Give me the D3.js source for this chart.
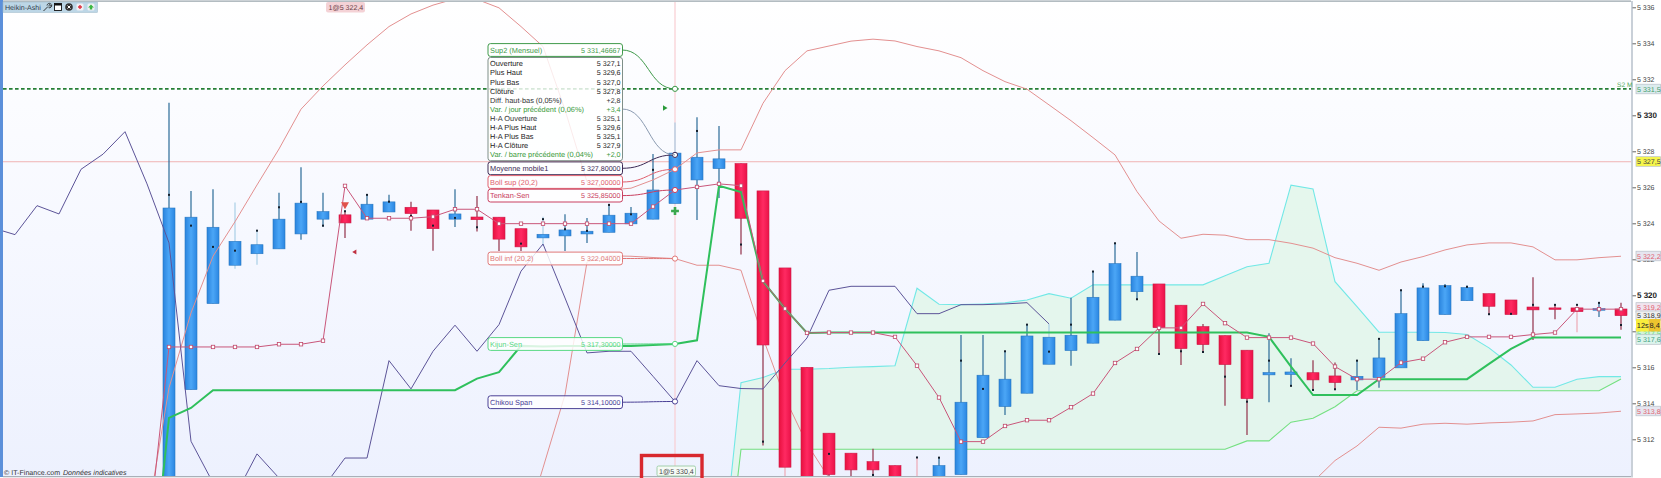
<!DOCTYPE html>
<html>
<head>
<meta charset="utf-8">
<title>Heikin-Ashi</title>
<script src="https://cdn.jsdelivr.net/npm/d3@7"></script>
<style>
html,body{margin:0;padding:0;background:#fff;overflow:hidden;}
text{font-family:"Liberation Sans",Arial,sans-serif;text-rendering:geometricPrecision;}
</style>
</head>
<body>
<div id="plot"></div>
<script>
//Set Height and Width Vars;
const w=1661;
const h=478;
const plotLeft=3;
const plotRight=1631;
const plotTop=2;
const plotBottom=476;

//Heikin-Ashi candles, first one is bar 0;
const opens=[5309.7,5314.76,5319.54,5321.67,5322.31,5322.58,5323.41,5324.23,5324.47,5324.23,5324.63,5324.89,5324.74,5324.23,5324.35,5324.34,5323.70,5323.19,5323.30,5323.41,5323.50,5323.97,5324.23,5325.1,5326.41,5327.04,5327.32,5325.80,5321.52,5316.00,5312.34,5311.23,5310.76,5310.54,5309.0,5309.47,5310.04,5312.09,5313.82,5314.56,5316.17,5316.93,5317.34,5318.62,5320.20,5320.63,5319.45,5318.26,5317.76,5316.95,5315.58,5315.60,5315.70,5315.52,5315.30,5315.43,5315.97,5317.48,5318.93,5319.70,5320.09,5319.74,5319.35,5319.30,5319.30,5319.17,5319.24];
const closes=[5324.85,5324.34,5323.78,5323.00,5322.81,5324.23,5325.12,5324.65,5324.02,5325.06,5325.19,5324.54,5323.70,5324.52,5324.20,5323.12,5322.69,5323.39,5323.63,5323.56,5324.45,5324.56,5325.85,5327.9,5327.67,5327.58,5324.28,5317.24,5310.45,5309.7,5310.04,5310.30,5310.30,5309.47,5308.5,5310.54,5314.06,5315.56,5315.34,5317.74,5317.67,5317.78,5319.89,5321.76,5321.06,5318.20,5317.04,5317.26,5316.15,5314.26,5315.71,5315.74,5315.30,5315.15,5315.50,5316.52,5318.98,5320.41,5320.54,5320.43,5319.39,5318.93,5319.19,5319.24,5319.09,5319.26,5318.87];
const highs=[5330.70,5325.80,5325.89,5325.15,5323.58,5325.70,5327.12,5325.70,5324.70,5325.58,5325.58,5325.20,5324.74,5325.89,5325.52,5324.34,5323.70,5324.37,5324.50,5324.30,5325.08,5324.9,5327.85,5329.6,5329.89,5329.41,5327.32,5325.80,5321.52,5316.00,5312.34,5311.23,5311.47,5310.54,5310.99,5310.98,5317.80,5317.80,5316.89,5318.37,5318.41,5319.87,5321.32,5322.89,5322.41,5320.63,5319.45,5318.41,5317.76,5316.95,5317.89,5316.50,5316.39,5316.26,5316.37,5317.58,5320.28,5320.67,5320.63,5320.55,5320.09,5319.74,5321.00,5319.50,5319.47,5319.58,5319.59];
const lows=[5309.7,5314.76,5319.54,5321.48,5321.70,5322.58,5323.09,5323.81,5323.19,5324.23,5324.63,5323.59,5322.48,5323.80,5323.54,5322.46,5322.46,5322.74,5322.46,5322.91,5323.50,5323.97,5324.23,5325.1,5324.19,5325.41,5322.26,5311.65,5309.7,5309.7,5309.7,5309.7,5309.96,5309.47,5308.5,5309.47,5310.04,5312.09,5313.35,5314.56,5316.17,5316.09,5317.34,5318.62,5319.78,5316.74,5316.13,5316.85,5313.87,5312.24,5314.06,5314.97,5314.74,5314.78,5314.74,5314.87,5315.97,5317.48,5318.93,5319.70,5318.95,5318.93,5317.52,5318.67,5317.95,5318.80,5318.08];
//Real close dots on top of the Heikin-Ashi bars;
const dots=[5325.58,5323.87,5322.69,5322.48,5323.59,5324.89,5325.19,5323.87,5324.67,5325.58,5325.20,5324.41,5323.87,5324.30,5323.78,5323.97,5322.87,5324.23,5323.67,5323.58,5325.02,5324.50,5326.97,null,5329.13,5326.19,5322.82,5311.87,null,null,5311.19,null,5310.02,null,5310.99,5310.98,5316.37,5314.80,5316.89,5318.37,5316.87,5318.37,5321.32,5322.89,5319.78,5316.74,5316.89,5316.85,5315.48,5314.09,5316.37,5314.97,5314.74,5314.78,5316.37,5317.58,5320.28,5320.48,5320.50,5320.47,5318.95,5318.97,5319.47,5319.47,5319.47,5319.58,5318.35];
//Bars whose wick is washed out in the picture;
const paleWicks=[3,4,17,23,28,34,40,64];

//Indicators, each one has the bar it starts on;
const bollSupStart=-1;
const bollSup=[5307.52,5314.86,5319.02,5322.17,5324.09,5326.13,5328.13,5330.34,5331.63,5332.80,5333.91,5334.93,5335.63,5336.12,5336.47,5336.44,5335.97,5334.93,5333.82,5330.30,5326.30,5325.85,5325.95,5326.41,5327.0,5327.91,5328.08,5328.08,5330.67,5332.48,5333.58,5333.85,5334.12,5334.23,5334.13,5333.82,5333.58,5333.20,5332.48,5331.87,5331.45,5330.58,5329.70,5328.76,5327.80,5325.76,5324.13,5323.17,5323.39,5323.34,5323.09,5323.09,5322.89,5322.62,5322.09,5321.78,5321.39,5321.85,5322.15,5322.52,5322.80,5322.91,5322.91,5322.69,5321.97,5321.97,5322.09,5322.17];
const bollInfStart=16;
const bollInf=[5306.41,5310.41,5314.48,5321.85,5322.19,5322.17,5322.10,5322.04,5321.67,5321.67,5321.39,5317.63,5314.30,5311.74,5309.85,5308,5308,5308,5308,5308,5308,5308,5308,5308,5308,5308,5308,5308,5308,5308,5308,5308,5308,5308,5308,5308,5309.63,5310.82,5311.63,5312.67,5312.62,5312.84,5312.89,5312.84,5312.91,5312.95,5313.02,5313.37,5313.41,5313.46,5313.56];
const tenkanStart=-1;
const tenkan=[5305.85,5317.13,5317.13,5317.13,5317.13,5317.13,5317.28,5317.28,5317.48,5326.08,5324.28,5324.28,5324.28,5324.37,5324.78,5324.78,5323.98,5323.98,5323.98,5323.98,5323.98,5323.98,5323.98,5324.93,5325.85,5326.02,5326.19,5326.09,5320.80,5319.26,5317.91,5317.93,5317.93,5317.93,5317.69,5316.09,5314.32,5311.87,5311.87,5312.74,5313.06,5313.06,5313.78,5314.54,5316.24,5317.02,5318.19,5318.19,5319.52,5318.45,5317.65,5317.65,5317.65,5317.32,5316.04,5315.34,5315.34,5316.26,5316.48,5317.39,5317.69,5317.69,5317.69,5317.82,5317.93,5319.23,5319.23,5319.23];
const kijunStart=-1;
const kijun=[5301.41,5313.19,5313.74,5314.73,5314.73,5314.73,5314.73,5314.73,5314.73,5314.73,5314.73,5314.73,5314.73,5314.73,5314.73,5315.37,5315.73,5317.19,5317.16,5317.19,5317.19,5317.19,5317.19,5317.24,5317.3,5317.50,5326.08,5325.74,5320.78,5319.26,5317.91,5317.93,5317.93,5317.93,5317.93,5317.93,5317.93,5317.93,5317.93,5317.93,5317.93,5317.93,5317.93,5317.93,5317.93,5317.93,5317.93,5317.93,5317.93,5317.93,5317.93,5317.69,5316.04,5314.46,5314.46,5314.46,5315.34,5315.34,5315.34,5315.34,5315.34,5316.19,5317.02,5317.65,5317.65,5317.65,5317.65,5317.65];
const chikouStart=-8;
const chikou=[5323.74,5323.37,5324.98,5324.52,5327.00,5327.84,5329.09,5326.19,5322.91,5311.89,5309.58,5308.85,5311.19,5309.85,5309.19,5309.30,5310.96,5310.96,5316.37,5314.80,5316.89,5318.34,5316.89,5318.37,5321.34,5322.85,5319.85,5316.80,5316.89,5316.89,5315.50,5314.1,5316.37,5314.98,5314.82,5314.80,5316.24,5317.63,5320.28,5320.50,5320.50,5320.50,5318.98,5318.98,5319.48,5319.48,5319.52,5319.59,5318.41];
const cloudStart=25;
const senkouA=[5303.46,5315.15,5315.43,5315.89,5315.89,5315.93,5316.00,5316.04,5316.09,5320.39,5319.50,5319.48,5319.52,5319.58,5319.74,5320.09,5319.84,5320.58,5320.58,5320.58,5320.58,5320.58,5320.58,5321.08,5321.59,5321.78,5326.12,5325.91,5320.76,5319.37,5317.95,5317.95,5317.95,5317.93,5317.82,5317.08,5316.13,5314.89,5314.89,5315.34,5315.48,5315.48];
const senkouB=[5301,5311.45,5311.45,5311.45,5311.45,5311.45,5311.45,5311.45,5311.45,5311.45,5311.45,5311.45,5311.45,5311.45,5311.45,5311.45,5311.45,5311.45,5311.45,5311.45,5311.45,5311.45,5311.45,5311.45,5311.91,5311.91,5312.95,5313.17,5313.81,5314.70,5314.70,5314.70,5314.70,5314.70,5314.70,5314.70,5314.70,5314.70,5314.70,5314.70,5314.70,5315.35];

//Axis ticks and horizontal lines;
const tickValues=[5312,5314,5316,5318,5320,5322,5324,5326,5328,5330,5332,5334,5336];
const boldTicks=[5320,5330];
const sup2Price=5331.47;
const crossPrice=5327.42;
const crossBar=23;

//Tooltip contents;
const infoNames=["Ouverture","Plus Haut","Plus Bas","Clôture","Diff. haut-bas (0,05%)","Var. / jour précédent (0,06%)","H-A Ouverture","H-A Plus Haut","H-A Plus Bas","H-A Clôture","Var. / barre précédente (0,04%)"];
const infoValues=["5 327,1","5 329,6","5 327,0","5 327,8","+2,8","+3,4","5 325,1","5 329,6","5 325,1","5 327,9","+2,0"];
const infoColors=["#222","#222","#222","#222","#333","#3a9a3a","#333","#222","#222","#222","#3a9a3a"];
const boxNames=["Sup2 (Mensuel)","Moyenne mobile1","Boll sup (20,2)","Tenkan-Sen","Boll inf (20,2)","Kijun-Sen","Chikou Span"];
const boxLabels=["5 331,46667","5 327,80000","5 327,00000","5 325,85000","5 322,04000","5 317,30000","5 314,10000"];
const boxPrices=[5331.47,5327.8,5327.0,5325.85,5322.04,5317.3,5314.1];
const boxColors=["#3f9a4a","#3c2a55","#e0606e","#c94060","#e07878","#58d884","#4a4096"];
const boxCenters=[50,168.3,182,195.6,258.5,344,402.2];

//Price tags on the right;
const tagLabels=["5 331,5","5 327,5","5 322,2","5 319,2","5 318,9","5 317,5","5 317,6","5 313,8"];
const tagCenters=[89,161.5,256,307.5,315.8,333,339.5,411];
const tagFills=["#dcecee","#f6f64a","#e6e6f0","#f0e4ee","#eeeeee","#d4f4d8","#dcf4ec","#e6e6f0"];
const tagInks=["#3f9a6a","#444","#e0606e","#e0606e","#333","#58d884","#3fa080","#e0606e"];

//Initialize SVG;
const svg=d3.select("#plot")
	.append("svg")
	.attr("width",w)
	.attr("height",h)
	.style("display","block");

//Define gradients and clip;
const defs=svg.append("defs");

function addGradient(id,stops,vertical){
	const g=defs.append("linearGradient")
		.attr("id",id)
		.attr("x1",0).attr("y1",0)
		.attr("x2",vertical?0:1).attr("y2",vertical?1:0);
	stops.forEach(function(s,i){
		g.append("stop").attr("offset",i/(stops.length-1)).attr("stop-color",s);
	});
}
addGradient("bgFill",["#ffffff","#f6f8ff","#edf1fe"],true);
addGradient("blueBar",["#2a84de","#4ba6f6","#2a86e2"],false);
addGradient("redBar",["#e8103f","#ff2a62","#ea1248"],false);

defs.append("clipPath")
	.attr("id","plotClip")
	.append("rect")
	.attr("x",plotLeft)
	.attr("y",plotTop)
	.attr("width",plotRight-plotLeft)
	.attr("height",plotBottom-plotTop);

//Set Scales;
const xScale=d3.scaleLinear().domain([0,66]).range([169,1621]);
const yScale=d3.scaleLinear().domain([5336,5312]).range([7.3,439.3]);
const barWidth=12;
const smallFont=7.1;
const nameFont=7.4;

//Background and frame;
svg.append("rect")
	.attr("x",plotLeft).attr("y",0)
	.attr("width",plotRight-plotLeft).attr("height",plotBottom)
	.attr("fill","url(#bgFill)");
svg.append("rect").attr("x",0).attr("y",0).attr("width",3).attr("height",plotBottom+1).attr("fill","#5c90da");
svg.append("line").attr("x1",plotLeft).attr("x2",plotRight).attr("y1",1.2).attr("y2",1.2).attr("stroke","#9aa6ad").attr("stroke-width",1.2);
svg.append("line").attr("x1",plotLeft).attr("x2",plotRight+2).attr("y1",476.6).attr("y2",476.6).attr("stroke","#a9b0b8").attr("stroke-width",1.2);
svg.append("rect").attr("x",plotRight).attr("y",1).attr("width",2).attr("height",476).attr("fill","#c9d0d8");

const plot=svg.append("g").attr("clip-path","url(#plotClip)");

//Line helpers;
function series(values,start){
	return values.map(function(v,i){return {i:i+start,v:v};});
}
const lineGen=d3.line()
	.x(function(d){return xScale(d.i);})
	.y(function(d){return yScale(d.v);});

function drawLine(parent,values,start,color,width){
	parent.append("path")
		.datum(series(values,start))
		.attr("d",lineGen)
		.attr("fill","none")
		.attr("stroke",color)
		.attr("stroke-width",width);
}

//Cloud;
const cloudData=senkouA.map(function(v,i){return {i:i+cloudStart,a:v,b:senkouB[i]};});
plot.append("path")
	.datum(cloudData)
	.attr("d",d3.area()
		.x(function(d){return xScale(d.i);})
		.y0(function(d){return yScale(d.a);})
		.y1(function(d){return yScale(d.b);}))
	.attr("fill","#dff5e7")
	.attr("fill-opacity",0.75);
drawLine(plot,senkouA,cloudStart,"#72e8e6",1.1);
drawLine(plot,senkouB,cloudStart,"#74e080",1.1);

//Lower band goes behind the candles;
drawLine(plot,bollInf,bollInfStart,"#e39090",1);

//Crosshair and support line;
plot.append("line")
	.attr("x1",plotLeft).attr("x2",plotRight)
	.attr("y1",yScale(crossPrice)).attr("y2",yScale(crossPrice))
	.attr("stroke","#f0b4b4").attr("stroke-width",1);
plot.append("line")
	.attr("x1",xScale(crossBar)).attr("x2",xScale(crossBar))
	.attr("y1",plotTop).attr("y2",plotBottom)
	.attr("stroke","#f8cdd2").attr("stroke-width",1.2);
plot.append("line")
	.attr("x1",plotLeft).attr("x2",plotRight)
	.attr("y1",yScale(sup2Price)).attr("y2",yScale(sup2Price))
	.attr("stroke","#267f36").attr("stroke-width",1.7)
	.attr("stroke-dasharray","3.6,2.4");

//Draw Candles;
const candles=opens.map(function(o,i){
	return {i:i,o:o,c:closes[i],h:highs[i],l:lows[i],dot:dots[i],up:closes[i]>=o};
});
function wickColor(d){
	if(paleWicks.indexOf(d.i)>=0){
		return d.up?"#a9cfe6":"#eda9b4";
	}
	return d.up?"#2b6b98":"#923048";
}
plot.append("g")
	.selectAll("line")
	.data(candles)
	.enter()
	.append("line")
	.attr("x1",function(d){return xScale(d.i);})
	.attr("x2",function(d){return xScale(d.i);})
	.attr("y1",function(d){return yScale(d.h);})
	.attr("y2",function(d){return yScale(d.l);})
	.attr("stroke",wickColor)
	.attr("stroke-width",1.2);
plot.append("g")
	.selectAll("rect")
	.data(candles)
	.enter()
	.append("rect")
	.attr("x",function(d){return xScale(d.i)-barWidth/2;})
	.attr("y",function(d){return yScale(Math.max(d.o,d.c));})
	.attr("width",barWidth)
	.attr("height",function(d){return Math.max(1.5,yScale(Math.min(d.o,d.c))-yScale(Math.max(d.o,d.c)));})
	.attr("fill",function(d){return d.up?"url(#blueBar)":"url(#redBar)";})
	.attr("stroke",function(d){return d.up?"#2a78c0":"#cc1c48";})
	.attr("stroke-width",0.6);
plot.append("g")
	.selectAll("rect")
	.data(candles.filter(function(d){return d.dot!==null;}))
	.enter()
	.append("rect")
	.attr("x",function(d){return xScale(d.i)-1;})
	.attr("y",function(d){return yScale(d.dot)-1;})
	.attr("width",2)
	.attr("height",2)
	.attr("fill","#14202e");

//Indicators over the candles;
drawLine(plot,bollSup,bollSupStart,"#e39090",1);
drawLine(plot,chikou,chikouStart,"#5c5498",1);
drawLine(plot,kijun,kijunStart,"#2fc05c",2);
drawLine(plot,tenkan,tenkanStart,"#c9567a",1);
plot.append("g")
	.selectAll("rect")
	.data(series(tenkan,tenkanStart))
	.enter()
	.append("rect")
	.attr("x",function(d){return xScale(d.i)-1.7;})
	.attr("y",function(d){return yScale(d.v)-1.7;})
	.attr("width",3.4)
	.attr("height",3.4)
	.attr("fill","#fff")
	.attr("stroke","#c0486a")
	.attr("stroke-width",0.8);

//Small signals;
plot.append("path")
	.attr("d",d3.symbol().type(d3.symbolTriangle).size(28))
	.attr("transform","translate("+xScale(8)+",204.5) rotate(180)")
	.attr("fill","#e0504a");
plot.append("path")
	.attr("d",d3.symbol().type(d3.symbolTriangle).size(10))
	.attr("transform","translate(355,252) rotate(-90)")
	.attr("fill","#c03040");
plot.append("path")
	.attr("d",d3.symbol().type(d3.symbolTriangle).size(12))
	.attr("transform","translate(664.5,108) rotate(90)")
	.attr("fill","#2a9a3a");
plot.append("path")
	.attr("d",d3.symbol().type(d3.symbolCross).size(34))
	.attr("transform","translate("+xScale(crossBar)+",211)")
	.attr("fill","#3aa84e");

//Tooltip leaders;
const tipX=622;
const leaders=svg.append("g").attr("fill","none");
boxNames.forEach(function(n,i){
	const ty=yScale(boxPrices[i]);
	leaders.append("path")
		.attr("d",d3.linkHorizontal()({source:[tipX,boxCenters[i]],target:[xScale(crossBar),ty]}))
		.attr("stroke",boxColors[i])
		.attr("stroke-width",1);
	leaders.append("circle")
		.attr("cx",xScale(crossBar))
		.attr("cy",ty)
		.attr("r",2.6)
		.attr("fill","#fff")
		.attr("stroke",boxColors[i])
		.attr("stroke-width",1);
});
leaders.append("path")
	.attr("d",d3.linkHorizontal()({source:[tipX,109],target:[xScale(crossBar),yScale(5327.8)]}))
	.attr("stroke","#8a9ab0")
	.attr("stroke-width",1);

//Draw Tooltip;
const tip=svg.append("g");
const boxX=488;
const boxW=134.5;
boxNames.forEach(function(n,i){
	const g=tip.append("g");
	g.append("rect")
		.attr("x",boxX).attr("y",boxCenters[i]-6.4)
		.attr("width",boxW).attr("height",12.8)
		.attr("rx",2.5)
		.attr("fill","#fff").attr("fill-opacity",0.82)
		.attr("stroke",boxColors[i]).attr("stroke-width",1);
	g.append("text")
		.attr("x",boxX+2)
		.attr("y",boxCenters[i]+2.6)
		.attr("font-size",nameFont)
		.attr("fill",boxColors[i])
		.text(n);
	g.append("text")
		.attr("x",boxX+boxW-2).attr("y",boxCenters[i]+2.6)
		.attr("text-anchor","end")
		.attr("font-size",smallFont)
		.attr("fill",boxColors[i])
		.text(boxLabels[i]);
});
tip.append("rect")
	.attr("x",boxX).attr("y",57.5)
	.attr("width",boxW).attr("height",103.2)
	.attr("rx",2.5)
	.attr("fill","#fff").attr("fill-opacity",0.82)
	.attr("stroke","#7f8f88").attr("stroke-width",1);
const rowY=d3.scaleLinear().domain([0,infoNames.length-1]).range([66.3,157.3]);
infoNames.forEach(function(n,i){
	tip.append("text")
		.attr("x",boxX+2).attr("y",rowY(i))
		.attr("font-size",nameFont)
		.attr("fill",infoColors[i])
		.text(n);
	tip.append("text")
		.attr("x",boxX+boxW-2).attr("y",rowY(i))
		.attr("text-anchor","end")
		.attr("font-size",smallFont)
		.attr("fill",infoColors[i])
		.text(infoValues[i]);
});

//Y Axis;
const yAxis=d3.axisRight(yScale)
	.tickValues(tickValues)
	.tickSize(3.5)
	.tickFormat(function(d){
		return String(d).slice(0,1)+" "+String(d).slice(1);
	});
const axisG=svg.append("g")
	.attr("transform","translate(1632.5,0)")
	.call(yAxis);
axisG.select(".domain").remove();
axisG.selectAll(".tick line").attr("stroke","#666");
axisG.selectAll(".tick text")
	.attr("x",4.5)
	.attr("fill",function(d){return boldTicks.indexOf(d)>=0?"#222":"#444";})
	.style("font-family","'Liberation Sans',Arial,sans-serif")
	.style("font-size",function(d){return boldTicks.indexOf(d)>=0?"8px":"7px";})
	.style("font-weight",function(d){return boldTicks.indexOf(d)>=0?"bold":"normal";});

//Price tags;
tagLabels.forEach(function(t,i){
	svg.append("rect")
		.attr("x",1636).attr("y",tagCenters[i]-4.8)
		.attr("width",24.5).attr("height",9.6)
		.attr("fill",tagFills[i])
		.attr("stroke","#b8c0c8").attr("stroke-width",0.7);
	svg.append("text")
		.attr("x",1637).attr("y",tagCenters[i]+2.6)
		.attr("font-size",smallFont)
		.attr("fill",tagInks[i])
		.text(t);
});

//Countdown tag;
svg.append("rect").attr("x",1636).attr("y",319).attr("width",12.5).attr("height",12.5).attr("fill","#f8ee3c");
svg.append("rect").attr("x",1648.5).attr("y",319).attr("width",12).attr("height",12.5).attr("fill","#eec52e");
svg.append("text").attr("x",1636.8).attr("y",328).attr("font-size",7.4).attr("fill","#222").text("12s");
svg.append("text").attr("x",1649.5).attr("y",328).attr("font-size",7.4).attr("fill","#222").text("8,4");

//S2 M label;
svg.append("text")
	.attr("x",1617).attr("y",87)
	.attr("font-size",6.6)
	.attr("fill","#4fa85a")
	.text("S2 M");

//Order tags;
svg.append("rect").attr("x",326).attr("y",2).attr("width",39).attr("height",10.5).attr("rx",2).attr("fill","#f4d2d6");
svg.append("text").attr("x",328.5).attr("y",9.8).attr("font-size",smallFont).attr("fill","#6a4048").text("1@5 322,4");

svg.append("rect").attr("x",657).attr("y",466).attr("width",38.5).attr("height",10).attr("rx",1.5).attr("fill","#f6fbf6").attr("stroke","#8fc79a").attr("stroke-width",0.8);
svg.append("text").attr("x",659).attr("y",473.6).attr("font-size",smallFont).attr("fill","#444").text("1@5 330,4");

//Red box drawn around the order tag;
svg.append("rect")
	.attr("x",641.5).attr("y",455.5)
	.attr("width",60.5).attr("height",40)
	.attr("fill","none")
	.attr("stroke","#d8282e")
	.attr("stroke-width",3.4);

//Copyright line;
svg.append("text")
	.attr("x",4).attr("y",474.5)
	.attr("font-size",smallFont)
	.attr("fill","#333")
	.text("© IT-Finance.com");
svg.append("text")
	.attr("x",63).attr("y",474.5)
	.attr("font-size",smallFont)
	.attr("font-style","italic")
	.attr("fill","#333")
	.text("Données indicatives");

//Toolbar;
const bar=svg.append("g");
bar.append("rect").attr("x",3).attr("y",2).attr("width",94.5).attr("height",10.5).attr("fill","#bcd6e6").attr("stroke","#9db8c8").attr("stroke-width",0.5);
bar.append("text").attr("x",5).attr("y",9.9).attr("font-size",smallFont).attr("fill","#30404c").text("Heikin-Ashi");
bar.append("path").attr("d","M43.5,11 L48,6.5 M47,5.5 a2.4,2.4 0 0 1 3.6,-1.8 l-1.6,1.6 l1,1 l1.6,-1.6 a2.4,2.4 0 0 1 -3,3")
	.attr("fill","none").attr("stroke","#222").attr("stroke-width",0.9);
bar.append("rect").attr("x",54.5).attr("y",3.5).attr("width",7).attr("height",7).attr("fill","#fff").attr("stroke","#111").attr("stroke-width",0.9);
bar.append("rect").attr("x",54.5).attr("y",3.5).attr("width",7).attr("height",2).attr("fill","#111");
bar.append("circle").attr("cx",69).attr("cy",7).attr("r",3.8).attr("fill","#333");
bar.append("path").attr("d","M67.5,5.5 L70.5,8.5 M70.5,5.5 L67.5,8.5").attr("stroke","#fff").attr("stroke-width",1);
bar.append("rect").attr("x",76.5).attr("y",3.5).attr("width",7).attr("height",7).attr("rx",1.5).attr("fill","#f0f0f4");
bar.append("path").attr("d","M78,7 H82 M80,5 V9").attr("stroke","#e03040").attr("stroke-width",1.4);
bar.append("rect").attr("x",87.5).attr("y",3.5).attr("width",7).attr("height",7).attr("rx",1.5).attr("fill","#f0f0f4");
bar.append("path").attr("d","M91,4.5 L94,7.5 H92.2 V9.5 H89.8 V7.5 H88 Z").attr("fill","#3cb843");
</script>
</body>
</html>
